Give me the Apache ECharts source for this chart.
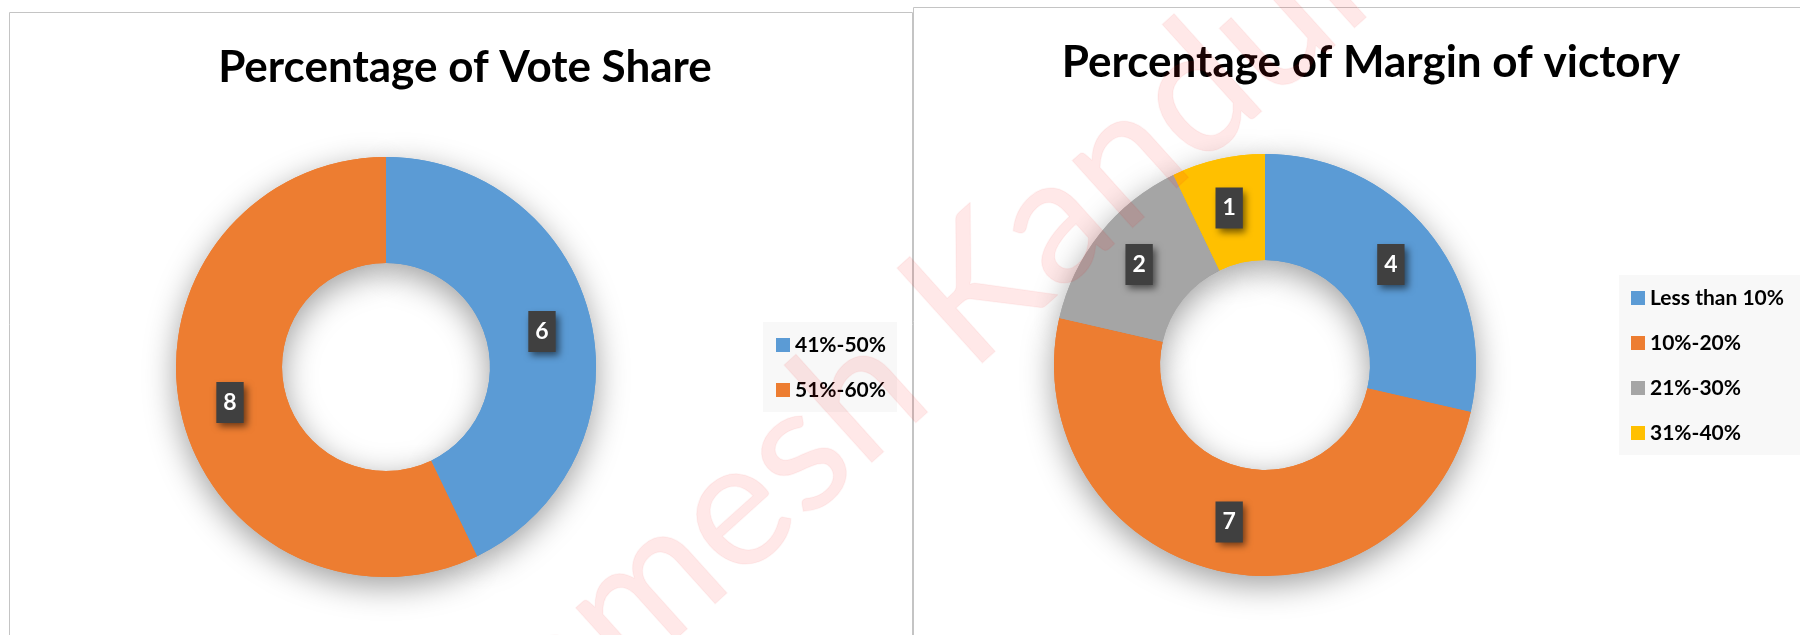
<!DOCTYPE html>
<html>
<head>
<meta charset="utf-8">
<script src="https://cdn.jsdelivr.net/npm/echarts@6/dist/echarts.min.js"></script>
<style>
html,body{margin:0;padding:0;background:#fff;}
#chart{width:1800px;height:635px;}
</style>
</head>
<body>
<div id="chart"></div>
<script>
const voteCategories = ['41%-50%', '51%-60%'];
const voteValues = [6, 8];
const marginCategories = ['Less than 10%', '10%-20%', '21%-30%', '31%-40%'];
const marginValues = [4, 7, 2, 1];
const voteTitle = 'Percentage of Vote Share';
const marginTitle = 'Percentage of Margin of victory';
const watermarkText = 'Ramesh Kandula';

const palette = ['#5B9BD5', '#ED7D31', '#A5A5A5', '#FFC000'];
const FONT = 'Lato';

function toData(cats, vals) {
  return cats.map((c, i) => ({ name: c, value: vals[i], itemStyle: { color: palette[i] } }));
}

function mainPie(cats, vals, center, radius) {
  return {
    type: 'pie', center: center, radius: radius, z: 3,
    startAngle: 90, clockwise: true, avoidLabelOverlap: false,
    emphasis: { scale: false },
    data: toData(cats, vals),
    label: {
      show: true, position: 'inside', formatter: '{c}',
      color: '#ffffff', fontFamily: FONT, fontWeight: 'bold', fontSize: 23,
      lineHeight: 24, textBorderWidth: 0,
      backgroundColor: '#404040', padding: [9, 7, 8, 7],
      shadowColor: 'rgba(0,0,0,0.55)', shadowBlur: 7, shadowOffsetX: 3, shadowOffsetY: 4
    },
    labelLine: { show: false }
  };
}

function shadowPie(cats, vals, center, radius) {
  return {
    type: 'pie', center: center, radius: radius, z: 1, silent: true,
    startAngle: 90, clockwise: true,
    data: toData(cats, vals),
    label: { show: false }, labelLine: { show: false },
    itemStyle: { shadowColor: 'rgba(0,0,0,0.38)', shadowBlur: 32, shadowOffsetY: 9 }
  };
}

const legendText = { fontFamily: FONT, fontWeight: 'bold', fontSize: 21, lineHeight: 22, color: '#000' };

const chart = echarts.init(document.getElementById('chart'));
chart.setOption({
  animation: false,
  color: palette,
  title: [
    { text: voteTitle, left: 460, top: 41, textAlign: 'center',
      textStyle: { fontFamily: FONT, fontWeight: 'bold', fontSize: 44, color: '#000' } },
    { text: marginTitle, left: 1366, top: 36, textAlign: 'center',
      textStyle: { fontFamily: FONT, fontWeight: 'bold', fontSize: 44, color: '#000' } }
  ],
  legend: [
    { data: voteCategories, orient: 'vertical', left: 776, top: 334, padding: 0,
      itemWidth: 14, itemHeight: 14, itemGap: 23, icon: 'rect', selectedMode: false,
      textStyle: legendText },
    { data: marginCategories, orient: 'vertical', left: 1631, top: 287, padding: 0,
      itemWidth: 14, itemHeight: 14, itemGap: 23, icon: 'rect', selectedMode: false,
      textStyle: legendText }
  ],
  graphic: [
    { type: 'rect', z: 0, shape: { x: 9.5, y: 12.5, width: 903, height: 700 },
      style: { fill: 'none', stroke: '#c4c4c4', lineWidth: 1 } },
    { type: 'rect', z: 0, shape: { x: 913.5, y: 7.5, width: 1000, height: 700 },
      style: { fill: 'none', stroke: '#c4c4c4', lineWidth: 1 } },
    { type: 'rect', z: 0, shape: { x: 763, y: 322, width: 134, height: 90 },
      style: { fill: '#f8f8f8' } },
    { type: 'rect', z: 0, shape: { x: 1619, y: 275, width: 190, height: 180 },
      style: { fill: '#f8f8f8' } },
    { type: 'text', z: 100, silent: true, x: 922, y: 340, rotation: 42 * Math.PI / 180,
      style: { text: watermarkText, fontFamily: FONT, fontSize: 178, fontWeight: 'normal',
        fill: 'rgba(255,30,30,0.10)', stroke: 'rgba(230,0,0,0.04)', lineWidth: 1.5,
        textAlign: 'center', textVerticalAlign: 'middle' } }
  ],
  series: [
    mainPie(voteCategories, voteValues, [386, 367], [104, 210]),
    mainPie(marginCategories, marginValues, [1265, 365], [105, 211]),
    shadowPie(voteCategories, voteValues, [386, 367], [104, 210]),
    shadowPie(marginCategories, marginValues, [1265, 365], [105, 211])
  ]
});
</script>
</body>
</html>
